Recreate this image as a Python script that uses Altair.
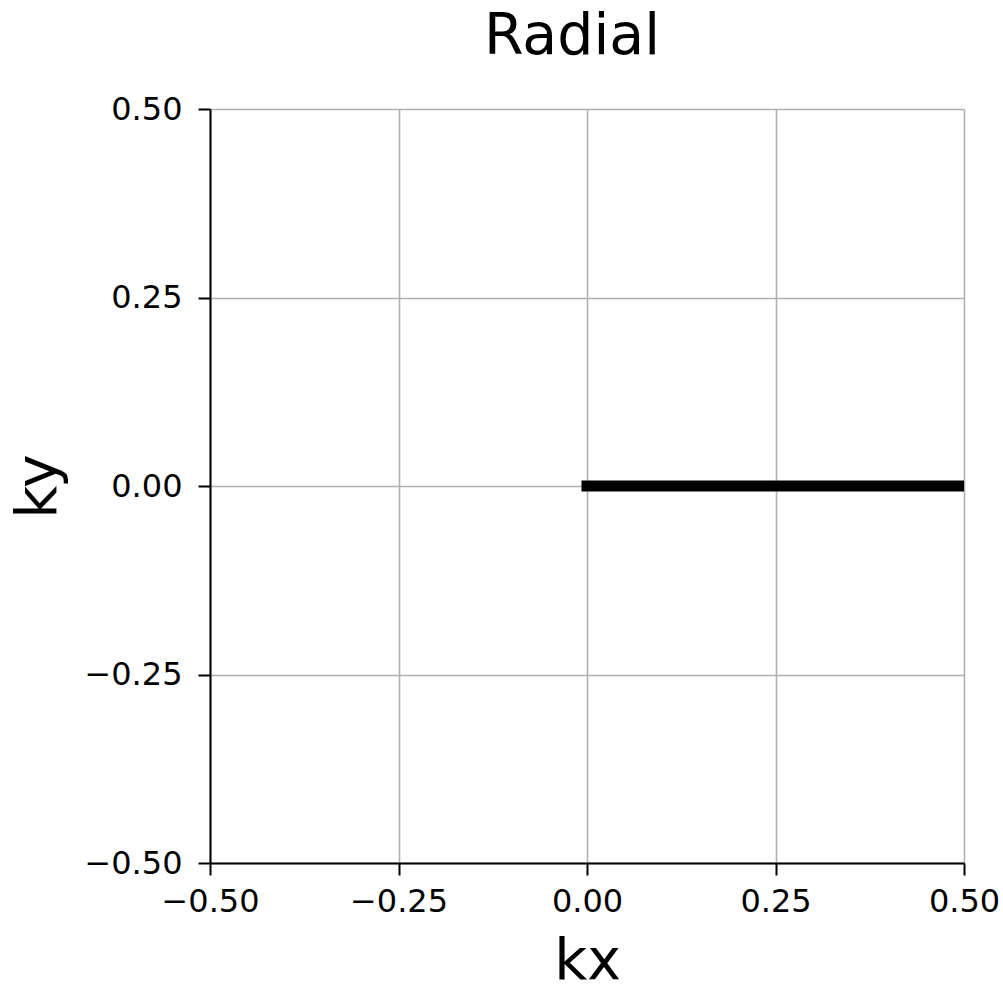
import altair as alt
import pandas as pd

kx = [0.0, 0.5]
ky = [0.0, 0.0]
ticks = [-0.5, -0.25, 0.0, 0.25, 0.5]

df = pd.DataFrame({"kx": kx, "ky": ky})

label_expr = "replace(format(datum.value, '.2f'), '-', '\u2212')"

common_axis = dict(
    values=ticks,
    labelExpr=label_expr,
    labelFont="DejaVu Sans",
    labelFontSize=32,
    labelColor="black",
    tickColor="black",
    tickWidth=2,
    tickSize=12,
    domainColor="black",
    domainWidth=2,
    gridColor="#b0b0b0",
    gridWidth=1.6,
    titleFont="DejaVu Sans",
    titleFontSize=57,
    titleFontWeight="normal",
    titleColor="black",
)

x_axis = alt.Axis(
    title="kx",
    labelPadding=11,
    titleX=377,
    titleY=115,
    titleBaseline="alphabetic",
    titleAlign="center",
    labelFlush=False,
    labelOverlap=False,
    **common_axis,
)
y_axis = alt.Axis(
    title="ky",
    labelPadding=16,
    titleX=-155,
    titleY=377,
    titleAngle=-90,
    titleBaseline="alphabetic",
    titleAlign="center",
    labelFlush=False,
    labelOverlap=False,
    **common_axis,
)

chart = (
    alt.Chart(df)
    .mark_line(color="black", strokeWidth=11, strokeCap="square", clip=True)
    .encode(
        x=alt.X("kx:Q", scale=alt.Scale(domain=[-0.5, 0.5], nice=False, zero=False), axis=x_axis),
        y=alt.Y("ky:Q", scale=alt.Scale(domain=[-0.5, 0.5], nice=False, zero=False), axis=y_axis),
    )
    .properties(
        width=754,
        height=754,
        title=alt.TitleParams(
            "Radial",
            font="DejaVu Sans",
            fontSize=57,
            fontWeight="normal",
            color="black",
            anchor="middle",
            baseline="bottom",
            offset=25,
            dx=-15,
            dy=55,
        ),
        autosize=alt.AutoSizeParams(type="none"),
        padding={"left": 210, "top": 109, "right": 39, "bottom": 124},
    )
    .configure_view(stroke="black", strokeWidth=2)
    .configure(background="white")
)

chart.save("out.html", embed_options={"renderer": "svg", "actions": False})
